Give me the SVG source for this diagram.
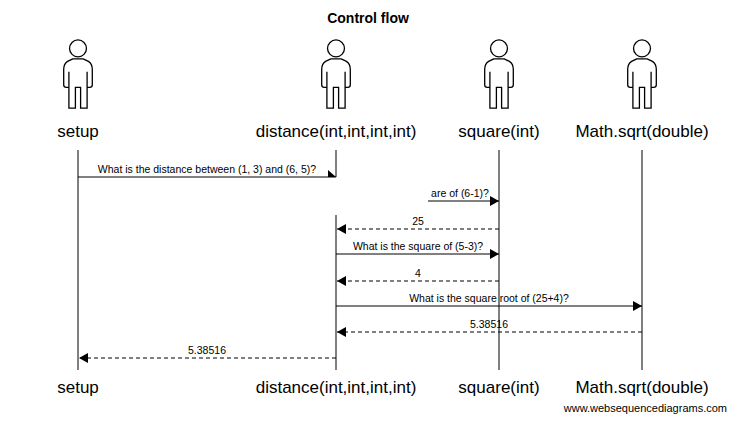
<svg xmlns="http://www.w3.org/2000/svg" width="735" height="421" viewBox="0 0 735 421">
<style>
text{font-family:"Liberation Sans",Arial,sans-serif;fill:#000}
.t{font-size:17px;text-anchor:middle}
.m{font-size:10.5px;text-anchor:middle}
.l{stroke:#000;stroke-width:1;fill:none}
.d{stroke:#000;stroke-width:1;fill:none;stroke-dasharray:4,3}
.f{fill:none;stroke:#000;stroke-width:1}
</style>
<defs>
<marker id="a" markerWidth="10" markerHeight="10" refX="9" refY="5" orient="auto" markerUnits="userSpaceOnUse"><path d="M0,0L9,5L0,10z" fill="#000"/></marker>
<g id="fig" transform="scale(1.3)">
<circle cx="0" cy="-22" r="6.5" class="f"/>
<path class="f" d="M-4,-14 L-8,-12 Q-11,-10 -11,-6 L-11,6 Q-11,8 -9,8 L-7,8 L-7,-4 L-7,24 L-2,24 L-2,8 L2,8 L2,24 L7,24 L7,-4 L7,8 L9,8 Q11,8 11,6 L11,-6 Q11,-10 8,-12 L4,-14 Z"/>
</g>
</defs>
<rect width="735" height="421" fill="#fff"/>
<text x="368" y="23" font-size="14" font-weight="bold" text-anchor="middle">Control flow</text>
<g id="setup"><use href="#fig" x="78" y="77"/><text class="t" x="78" y="137">setup</text><text class="t" x="78" y="393">setup</text></g>
<g id="distance"><use href="#fig" x="336" y="77"/><text class="t" x="336" y="137">distance(int,int,int,int)</text><text class="t" x="336" y="393">distance(int,int,int,int)</text></g>
<g id="square"><use href="#fig" x="499" y="77"/><text class="t" x="499" y="137">square(int)</text><text class="t" x="499" y="393">square(int)</text></g>
<g id="sqrt"><use href="#fig" x="642" y="77"/><text class="t" x="642" y="137">Math.sqrt(double)</text><text class="t" x="642" y="393">Math.sqrt(double)</text></g>
<g id="connectors">
<path class="l" d="M78,150V370M336,150V177M336,215V370M499,150V370M642,150V370"/>
<path class="l" d="M78,177H336"/><path d="M328,170L336,177L328,177z" fill="#000"/>
<text class="m" x="207" y="173">What is the distance between (1, 3) and (6, 5)?</text>
<path class="l" d="M428,201H499" marker-end="url(#a)"/><text class="m" x="460" y="197">are of (6-1)?</text>
<path class="d" d="M499,229H337" marker-end="url(#a)"/><text class="m" x="418" y="225">25</text>
<path class="l" d="M336,254H499" marker-end="url(#a)"/><text class="m" x="418" y="250">What is the square of (5-3)?</text>
<path class="d" d="M499,281H337" marker-end="url(#a)"/><text class="m" x="418" y="277">4</text>
<path class="l" d="M336,306H642" marker-end="url(#a)"/><text class="m" x="489" y="302">What is the square root of (25+4)?</text>
<path class="d" d="M642,332H337" marker-end="url(#a)"/><text class="m" x="489" y="328">5.38516</text>
<path class="d" d="M336,358H79" marker-end="url(#a)"/><text class="m" x="207" y="354">5.38516</text>
</g>
<text x="727" y="412" font-size="11" text-anchor="end">www.websequencediagrams.com</text>
</svg>
